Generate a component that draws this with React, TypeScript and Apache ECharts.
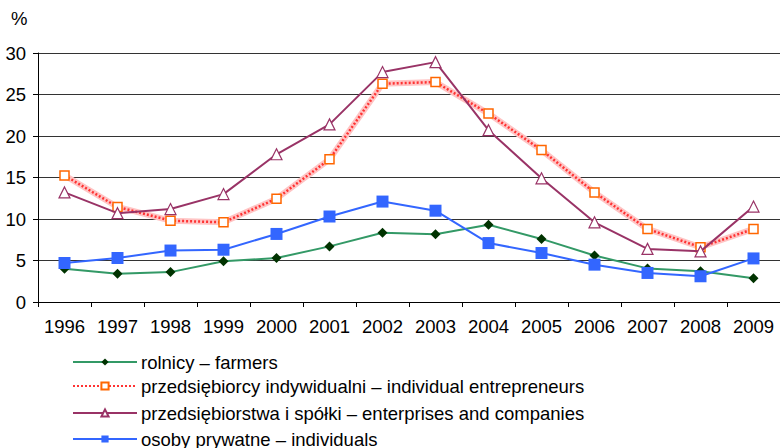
import React, { useEffect, useRef } from "react";
import * as echarts from "echarts";

const years = ["1996", "1997", "1998", "1999", "2000", "2001", "2002", "2003", "2004", "2005", "2006", "2007", "2008", "2009"];
const farmers = [4.0, 3.4, 3.6, 4.9, 5.3, 6.7, 8.35, 8.15, 9.3, 7.6, 5.6, 4.05, 3.7, 2.85];
const entrepreneurs = [15.25, 11.45, 9.8, 9.6, 12.45, 17.2, 26.3, 26.5, 22.7, 18.3, 13.2, 8.8, 6.6, 8.8];
const enterprises = [13.2, 10.7, 11.2, 13.0, 17.8, 21.4, 27.7, 28.9, 20.7, 14.9, 9.6, 6.4, 6.1, 11.5];
const individuals = [4.7, 5.3, 6.2, 6.3, 8.2, 10.3, 12.1, 11.0, 7.1, 5.9, 4.5, 3.5, 3.1, 5.25];

const nameFarmers = "rolnicy – farmers";
const nameEntrepreneurs = "przedsiębiorcy indywidualni – individual entrepreneurs";
const nameEnterprises = "przedsiębiorstwa i spółki – enterprises and companies";
const nameIndividuals = "osoby prywatne – individuals";

const legendNames = [nameFarmers, nameEntrepreneurs, nameEnterprises, nameIndividuals];
const legendTops = [352, 376, 403, 429];

const FONT = "Liberation Sans, Arial, sans-serif";
const FS = 18.5;

export default function App() {
  const ref = useRef<HTMLDivElement>(null);

  useEffect(() => {
    if (!ref.current) return;
    const chart = echarts.init(ref.current, null, { renderer: "svg" });
    // one legend per row so that the rows can run past the bottom edge
    const legends = legendNames.map((name, i) => ({
      orient: "vertical",
      left: 72,
      top: legendTops[i],
      padding: 0,
      itemWidth: 64,
      itemHeight: 9,
      data: [name],
      textStyle: { fontSize: FS, lineHeight: 20, fontFamily: FONT, color: "#000", padding: [0, 0, 0, -1] },
    }));
    chart.setOption({
      animation: false,
      backgroundColor: "#ffffff",
      textStyle: { fontFamily: FONT },
      grid: { left: 38, right: -1, top: 53, bottom: 146, containLabel: false },
      graphic: [
        {
          type: "text",
          left: 11,
          top: 9,
          style: { text: "%", fontSize: FS, fontFamily: FONT, fill: "#000" },
        },
      ],
      legend: legends,
      xAxis: {
        type: "category",
        data: years,
        boundaryGap: true,
        axisLine: { lineStyle: { color: "#000", width: 1 } },
        axisTick: { show: true, interval: 0, length: 5, lineStyle: { color: "#000" } },
        axisLabel: { interval: 0, fontSize: FS, color: "#000", margin: 15, fontFamily: FONT },
      },
      yAxis: {
        type: "value",
        min: 0,
        max: 30,
        interval: 5,
        axisLine: { show: true, lineStyle: { color: "#000", width: 1 } },
        axisTick: { show: true, length: 5, lineStyle: { color: "#000" } },
        axisLabel: { fontSize: FS, color: "#000", margin: 12, fontFamily: FONT },
        splitLine: { lineStyle: { color: "#333", width: 1 } },
      },
      series: [
        {
          name: "band",
          type: "line",
          data: entrepreneurs,
          symbol: "none",
          silent: true,
          lineStyle: { color: "#ffc4c4", width: 6 },
          z: 1,
        },
        {
          name: nameFarmers,
          type: "line",
          data: farmers,
          symbol: "diamond",
          symbolSize: 10,
          itemStyle: { color: "#003300", borderWidth: 0 },
          lineStyle: { color: "#339966", width: 2 },
          z: 2,
        },
        {
          name: nameEntrepreneurs,
          type: "line",
          data: entrepreneurs,
          symbol: "rect",
          symbolSize: 9,
          itemStyle: { color: "#ffffff", borderColor: "#ff6600", borderWidth: 1.5 },
          lineStyle: { color: "#ff3333", width: 2.5, type: [2, 2] },
          z: 3,
        },
        {
          name: nameEnterprises,
          type: "line",
          data: enterprises,
          symbol: "triangle",
          symbolSize: 11,
          itemStyle: { color: "#ffffff", borderColor: "#993366", borderWidth: 1.2 },
          lineStyle: { color: "#993366", width: 2 },
          z: 4,
        },
        {
          name: nameIndividuals,
          type: "line",
          data: individuals,
          symbol: "rect",
          symbolSize: 12,
          itemStyle: { color: "#3366ff", borderWidth: 0 },
          lineStyle: { color: "#3366ff", width: 2 },
          z: 5,
        },
      ],
    });
    return () => chart.dispose();
  }, []);

  return <div ref={ref} style={{ position: "fixed", left: 0, top: 0, width: 780, height: 448 }} />;
}
